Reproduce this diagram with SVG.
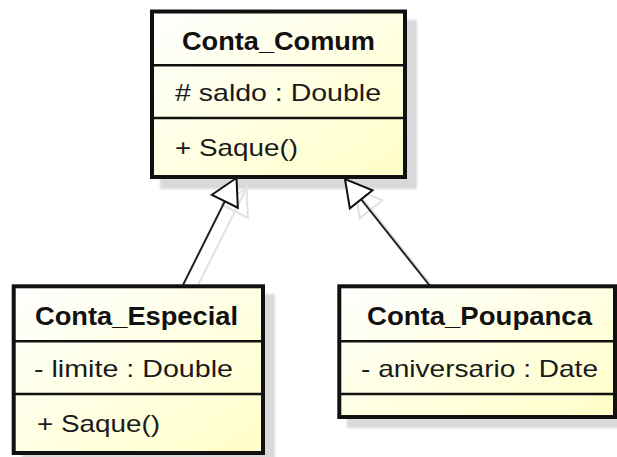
<svg xmlns="http://www.w3.org/2000/svg" width="617" height="457" viewBox="0 0 617 457">
  <defs>
    <linearGradient id="fillGrad" x1="0" y1="0" x2="1" y2="1">
      <stop offset="0" stop-color="#ffffff"/>
      <stop offset="1" stop-color="#ffffc8"/>
    </linearGradient>
    <filter id="soft" x="-5%" y="-5%" width="110%" height="110%">
      <feGaussianBlur stdDeviation="1.2"/>
    </filter>
    <marker id="genArrow" viewBox="-29 -17 31 34" refX="0" refY="0" markerWidth="31" markerHeight="34" markerUnits="userSpaceOnUse" orient="auto">
      <path d="M0,0 L-26,-14.5 L-26,14.5 Z" fill="#ffffff" stroke="#111111" stroke-width="2" stroke-linejoin="miter"/>
    </marker>
    <marker id="genArrowShadow" viewBox="-29 -17 31 34" refX="0" refY="0" markerWidth="31" markerHeight="34" markerUnits="userSpaceOnUse" orient="auto">
      <path d="M0,0 L-26,-14.5 L-26,14.5 Z" fill="none" stroke="#e2e2e2" stroke-width="2"/>
    </marker>
  </defs>
  <style>
    .box { fill: url(#fillGrad); stroke: #111111; stroke-width: 4; }
    .div { stroke: #111111; stroke-width: 2.4; }
    .shadow { fill: #d9d9d9; filter: url(#soft); }
    .title { font-family: "Liberation Sans", Arial, sans-serif; font-size: 25px; font-weight: bold; fill: #111111; text-anchor: middle; }
    .attr { font-family: "Liberation Sans", Arial, sans-serif; font-size: 24px; fill: #1a1a1a; }
    .edge { stroke: #222222; stroke-width: 2; fill: none; marker-end: url(#genArrow); }
    .edgeShadow { stroke: #e2e2e2; stroke-width: 2; fill: none; marker-end: url(#genArrowShadow); }
  </style>
  <rect width="617" height="457" fill="#ffffff"/>

  <g id="shadows">
    <rect class="shadow" x="160" y="20" width="257" height="169"/>
    <rect class="shadow" x="22" y="294" width="253" height="170"/>
    <rect class="shadow" x="347" y="294" width="280" height="134"/>
    <line class="edgeShadow" x1="193" y1="295" x2="246.5" y2="188"/>
    <line class="edgeShadow" x1="440" y1="296" x2="355" y2="189"/>
  </g>

  <g id="connectors">
    <line class="edge" x1="183" y1="285" x2="236.5" y2="178"/>
    <line class="edge" x1="430" y1="286" x2="345" y2="179"/>
  </g>

  <g id="Conta_Comum">
    <rect class="box" x="152" y="11.5" width="253" height="165.5"/>
    <line class="div" x1="152" y1="65.3" x2="405" y2="65.3"/>
    <line class="div" x1="152" y1="118" x2="405" y2="118"/>
    <text class="title" x="278.5" y="50" textLength="193" lengthAdjust="spacingAndGlyphs">Conta_Comum</text>
    <text class="attr" x="175" y="101" textLength="206" lengthAdjust="spacingAndGlyphs"># saldo : Double</text>
    <text class="attr" x="175" y="156" textLength="123" lengthAdjust="spacingAndGlyphs">+ Saque()</text>
  </g>

  <g id="Conta_Especial">
    <rect class="box" x="13.7" y="286.3" width="249.3" height="166.7"/>
    <line class="div" x1="13.7" y1="341.3" x2="263" y2="341.3"/>
    <line class="div" x1="13.7" y1="394" x2="263" y2="394"/>
    <text class="title" x="136.5" y="325" textLength="203" lengthAdjust="spacingAndGlyphs">Conta_Especial</text>
    <text class="attr" x="34" y="377" textLength="199" lengthAdjust="spacingAndGlyphs">- limite : Double</text>
    <text class="attr" x="37" y="432" textLength="123" lengthAdjust="spacingAndGlyphs">+ Saque()</text>
  </g>

  <g id="Conta_Poupanca">
    <rect class="box" x="339.3" y="286.3" width="275.7" height="130.7"/>
    <line class="div" x1="339.3" y1="341.3" x2="615" y2="341.3"/>
    <line class="div" x1="339.3" y1="394" x2="615" y2="394"/>
    <text class="title" x="479.5" y="325" textLength="225" lengthAdjust="spacingAndGlyphs">Conta_Poupanca</text>
    <text class="attr" x="361" y="377" textLength="237" lengthAdjust="spacingAndGlyphs">- aniversario : Date</text>
  </g>
</svg>
